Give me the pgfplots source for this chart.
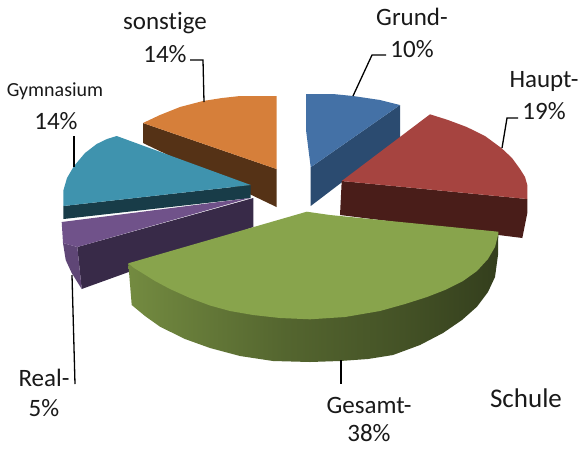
\documentclass[border=0pt]{standalone}
\usepackage{pgfplots}
\pgfplotsset{compat=1.18}
\usepackage{fontspec}
\setmainfont{Carlito}[Ligatures=NoCommon]
\definecolor{cBlue}{HTML}{4471A6}
\definecolor{cBlueD}{HTML}{2B4B70}
\definecolor{cRed}{HTML}{A64440}
\definecolor{cRedD}{HTML}{491D19}
\definecolor{cGreen}{HTML}{88A44C}
\definecolor{cTeal}{HTML}{3F93AE}
\definecolor{cTealD}{HTML}{183C48}
\definecolor{cPurple}{HTML}{70528A}
\definecolor{cPurpleM}{HTML}{5F4676}
\definecolor{cPurpleD}{HTML}{382A48}
\definecolor{cOrange}{HTML}{D67F3A}
\definecolor{cOrangeD}{HTML}{553216}
\pgfdeclarehorizontalshading{greenside}{100bp}{
 color(0bp)=(cGreen!90!black);
 color(22bp)=(cGreen!88!black);
 color(46bp)=(cGreen!62!black);
 color(62bp)=(cGreen!50!black);
 color(75bp)=(cGreen!38!black);
 color(100bp)=(cGreen!42!black)}
\newcommand{\lab}[4]{\node[font=\fontsize{#3}{#3}\selectfont,text=black!90,inner sep=0pt] at (axis cs:#1,#2) {#4};}
\begin{document}
\begin{tikzpicture}
\begin{axis}[width=580pt,height=448pt,scale only axis,xmin=0,xmax=580,ymin=0,ymax=448,
 y dir=reverse,hide axis,clip=false,axis line style={draw=none}]
\path (axis cs:0,0) rectangle (axis cs:580,448);
% sonstige
\addplot[fill=cOrangeD,draw=none,forget plot] coordinates {(143,123)(276.5,169)(276.5,207)(143,143)} --cycle;
\addplot[fill=cOrange,draw=none,forget plot] coordinates {(143,123)(160,115)(180,107)(203,101)(222,98)(240,96)(276.5,96)(276.5,169)} --cycle;
% Gymnasium
\addplot[fill=cTealD,draw=none,forget plot] coordinates {(63.3,206)(250.7,185)(250.7,198)(63.5,219)} --cycle;
\addplot[fill=cTeal,draw=none,forget plot] coordinates {(116.7,136)(107,139)(96.7,144)(85,153)(74,166)(67,178)(63.5,190)(63.3,206)(250.7,185)} --cycle;
% Real
\addplot[fill=cPurpleD,draw=none,forget plot] coordinates {(77.3,247)(253.3,198)(253.3,227)(81.7,289)} --cycle;
\addplot[fill=cPurpleM,draw=none,forget plot] coordinates {(63,243)(65.7,260)(71.7,273)(81.7,289)(77.3,247)} --cycle;
\addplot[fill=cPurple,draw=none,forget plot] coordinates {(61.7,222)(250,198)(77.3,247)(63,243)} --cycle;
% Grund
\addplot[fill=cBlueD,draw=none,forget plot] coordinates {(400,105)(400,138)(310.7,206)(310.7,167.3)} --cycle;
\addplot[fill=cBlue,draw=none,forget plot] coordinates {(306,94)(333,94)(353,96)(380,100)(400,105)(310.7,167.3)(306,130)} --cycle;
% Haupt
\addplot[fill=cRedD,draw=none,forget plot] coordinates {(341.7,181)(527.3,199)(527.3,213)(522.3,238)(340,215)} --cycle;
\addplot[fill=cRed,draw=none,forget plot] coordinates {(341.7,181)(430,114.3)(448,120)(466.7,127)(485,136)(501.7,148.3)(512,158)(520,169)(525,177)(527.3,185)(527.3,199)} --cycle;
% Gesamt
\addplot[shading=greenside,draw=none,forget plot] coordinates {(128.3,263.3)(131.7,305)(145,316)(160,326.7)(185,339)(210,348)(240,356)(273,361)(310,362)(340,361)(368,359)(393,355)(420,345)(443,333)(462,320)(477,306.7)(488,292)(495,277)(498,255)(498.3,234)(490,240)(300,260)} --cycle;
\addplot[fill=cGreen,draw=none,forget plot] coordinates {(128.3,263.3)(306.7,211.7)(330,215)(498.3,231.7)(498.3,234)(495,247)(488,259)(477,271)(463,281)(445,290)(427,297)(405,304)(380,311)(345,317)(310,319.3)(280,318)(253,315)(230,311)(210,305.5)(190,298)(170,289)(155,281)(143,273.5)(134,268)} --cycle;
% leaders
\addplot[black,line width=1.3pt,forget plot] coordinates {(353,96)(372,55)(386,55)};
\addplot[black,line width=1.3pt,forget plot] coordinates {(190,60)(203,60)(204,102)};
\addplot[black,line width=1.3pt,forget plot] coordinates {(74,136)(74,167)};
\addplot[black,line width=1.3pt,forget plot] coordinates {(518,118)(507,118)(502,148)};
\addplot[black,line width=1.3pt,forget plot] coordinates {(72,275)(75,384)};
\addplot[black,line width=1.3pt,forget plot] coordinates {(341,360)(341,384)};
% labels
\lab{412}{17}{25}{Grund-}
\lab{412}{49}{25}{10\%}
\lab{165}{23}{25}{sonstige}
\lab{165}{54}{25}{14\%}
\lab{544}{81}{25}{Haupt-}
\lab{544}{111}{25}{19\%}
\lab{55}{91}{20}{Gymnasium}
\lab{56}{121}{25}{14\%}
\lab{44}{378}{25}{Real-}
\lab{44}{408}{25}{5\%}
\lab{369}{405}{25}{Gesamt-}
\lab{369}{433}{25}{38\%}
\lab{526}{398}{27}{Schule}
\end{axis}
\end{tikzpicture}
\end{document}
